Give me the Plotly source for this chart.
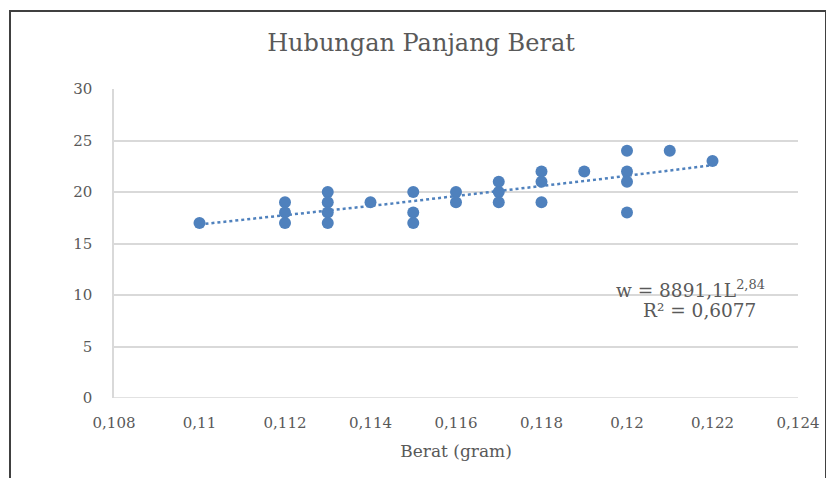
import numpy as np
import plotly.graph_objects as go

# Data
berat = [0.110,
         0.112, 0.112, 0.112,
         0.113, 0.113, 0.113, 0.113,
         0.114,
         0.115, 0.115, 0.115,
         0.116, 0.116,
         0.117, 0.117, 0.117,
         0.118, 0.118, 0.118,
         0.119,
         0.120, 0.120, 0.120, 0.120,
         0.121,
         0.122]
panjang = [17,
           19, 18, 17,
           20, 19, 18, 17,
           19,
           20, 18, 17,
           20, 19,
           21, 20, 19,
           22, 21, 19,
           22,
           24, 22, 21, 18,
           24,
           23]

# Power trendline coefficients as shown on the chart
coef_a = 8891.1
coef_b = 2.84

x_ticks = [0.108, 0.110, 0.112, 0.114, 0.116, 0.118, 0.120, 0.122, 0.124]
x_ticktext = ["0,108", "0,11", "0,112", "0,114", "0,116", "0,118", "0,12", "0,122", "0,124"]
y_ticks = [0, 5, 10, 15, 20, 25, 30]

blue = "#4F81BD"
grey_text = "#595959"
font_family = "DejaVu Serif"

# page offset (browser body margin)
OFF = 8
W, H = 834 - OFF, 478 - OFF
L, R, T, B = 114 - OFF, 798 - OFF, 89 - OFF, 398 - OFF
PW, PH = R - L, B - T


def px(xw):
    return (xw - OFF - L) / PW


def py(yw):
    return (B - (yw - OFF)) / PH


trend_x = np.linspace(min(berat), max(berat), 60)
trend_y = coef_a * trend_x ** coef_b

fig = go.Figure()
fig.add_trace(go.Scatter(
    x=trend_x, y=trend_y, mode="lines",
    line=dict(color=blue, width=2.5, dash="dot"),
    hoverinfo="skip", showlegend=False))
fig.add_trace(go.Scatter(
    x=berat, y=panjang, mode="markers",
    marker=dict(color=blue, size=12, line=dict(width=0)),
    showlegend=False))

fig.update_layout(
    width=W, height=H,
    margin=dict(l=L, r=W - R, t=T, b=H - B),
    paper_bgcolor="white", plot_bgcolor="white",
    font=dict(family=font_family, color=grey_text, size=15),
    title=dict(text="Hubungan Panjang Berat", x=0.5, xanchor="center",
               y=1 - (43 - OFF) / H, yanchor="middle",
               font=dict(family=font_family, size=24, color=grey_text)),
    xaxis=dict(range=[0.108, 0.124], tickvals=x_ticks, ticktext=x_ticktext,
               showgrid=False, zeroline=False, showline=False,
               ticks="", ticklabelstandoff=14,
               tickfont=dict(size=15, color=grey_text),
               title=dict(text="Berat (gram)", standoff=14,
                          font=dict(size=17, color=grey_text))),
    yaxis=dict(range=[0, 30], tickvals=y_ticks, showgrid=True,
               gridcolor="#D9D9D9", gridwidth=1.5, zeroline=False,
               showline=True, linecolor="#D9D9D9", linewidth=1.5,
               tickfont=dict(size=15, color=grey_text),
               ticks="", ticklabelstandoff=17),
    shapes=[
        dict(type="line", xref="paper", yref="y", x0=0, x1=1, y0=0, y1=0,
             line=dict(color="#D9D9D9", width=1.5)),
        dict(type="rect", xref="paper", yref="paper",
             x0=px(10), x1=px(826),
             y0=-0.4, y1=py(11),
             line=dict(color="#404040", width=2), fillcolor="rgba(0,0,0,0)",
             layer="above"),
    ],
    annotations=[
        dict(text="w = 8891,1L<sup>2,84</sup>", xref="paper", yref="paper",
             x=px(690), y=py(289), xanchor="center",
             yanchor="middle", showarrow=False,
             font=dict(size=18.5, color=grey_text, family=font_family)),
        dict(text="R² = 0,6077", xref="paper", yref="paper",
             x=px(699), y=py(310), xanchor="center",
             yanchor="middle", showarrow=False,
             font=dict(size=18.5, color=grey_text, family=font_family)),
    ],
)

fig.write_html("out.html")
